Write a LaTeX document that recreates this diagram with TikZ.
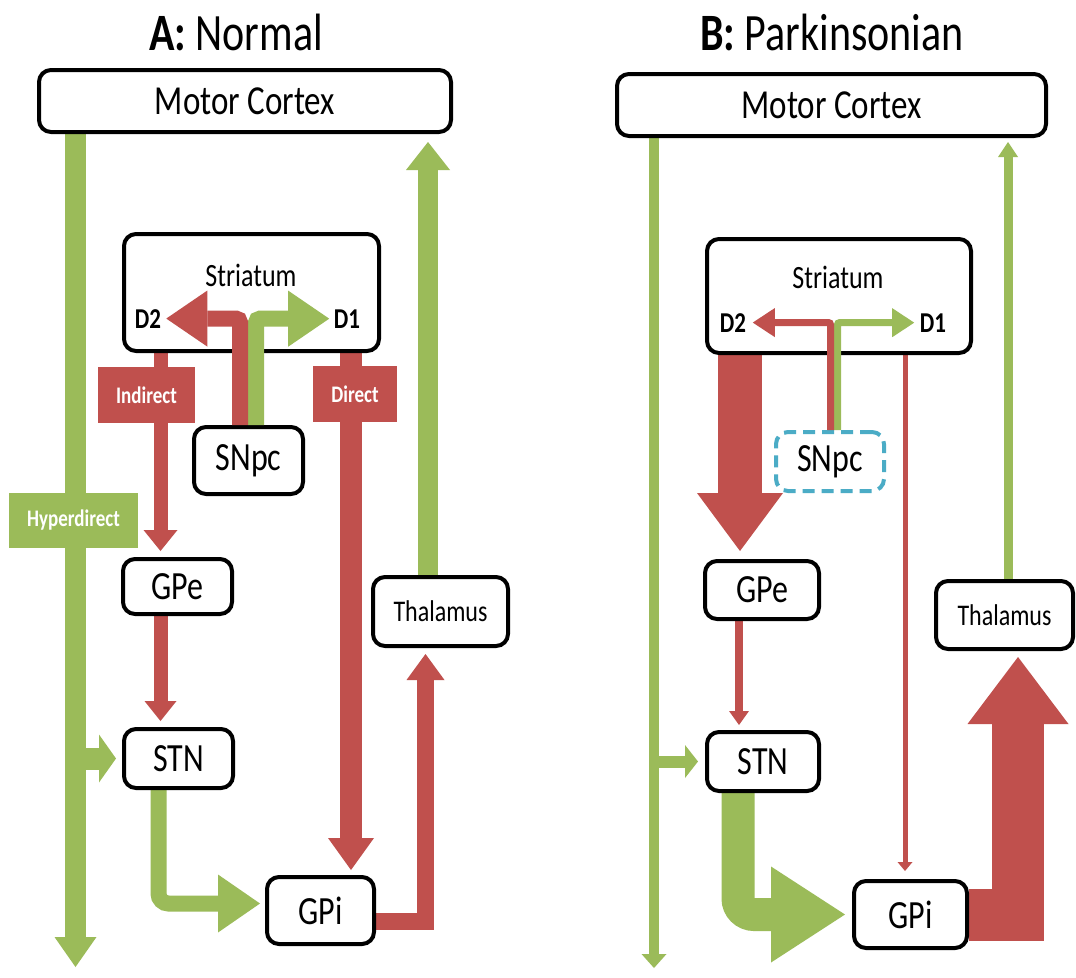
\documentclass[tikz,border=0pt]{standalone}
\usepackage{fontspec}
\setmainfont{Carlito}
\usepackage{graphicx}
\usetikzlibrary{arrows.meta,backgrounds,calc}
\definecolor{pred}{HTML}{C0504D}
\definecolor{pgreen}{HTML}{9BBB59}
\definecolor{pcyan}{HTML}{4BACC6}
\newcommand{\tall}[1]{\scalebox{1}[1.25]{#1}}
\newcommand{\fsz}[1]{\fontsize{#1}{#1}\selectfont}
\begin{document}
\begin{tikzpicture}[x=1pt,y=-1pt,
  brainbox/.style={draw=black,line width=4pt,rounded corners=12pt,fill=white,inner sep=0pt,font=\fsz{32}},
  pathtag/.style={inner sep=0pt,text=white,font=\bfseries\fsz{19}},
  lbl/.style={inner sep=0pt,anchor=base},
  rd/.style={draw=pred},
  gr/.style={draw=pgreen},
  hd/.style 2 args={-{Triangle[width=#1,length=#2,line width=0pt]}},
]
% ---------------- Panel A nodes
\node[lbl,font=\fsz{42}] (titleA) at (236,50) {\tall{\textbf{A:} Normal}};
\node[brainbox,minimum width=412pt,minimum height=62pt,font=\fsz{33}] (mcA) at (245,101) {\tall{Motor Cortex}};
\node[brainbox,minimum width=255pt,minimum height=117pt] (strA) at (251.5,292.5) {};
\node[lbl,font=\fsz{26}] (stA) at (251,286) {\tall{Striatum}};
\node[lbl,font=\bfseries\fsz{23}] (d2A) at (148,328) {\tall{D2}};
\node[lbl,font=\bfseries\fsz{23}] (d1A) at (347,328) {\tall{D1}};
\node[brainbox,minimum width=109pt,minimum height=67pt] (snA) at (248.5,460.5) {\tall{SNpc}};
\node[brainbox,minimum width=109pt,minimum height=55pt] (gpeA) at (177.5,586.5) {\tall{GPe}};
\node[brainbox,minimum width=109pt,minimum height=59pt] (stnA) at (178.5,758.5) {\tall{STN}};
\node[brainbox,minimum width=107pt,minimum height=67pt] (gpiA) at (320.5,910.5) {\tall{GPi}};
\node[brainbox,minimum width=135pt,minimum height=69pt,font=\fsz{24}] (thA) at (440.5,611.5) {\tall{Thalamus}};
\coordinate (xhA) at (75.5,967);
\coordinate (xindA) at (160.5,0);
\coordinate (xdirA) at (351,0);
\coordinate (xthA) at (425.5,0);
\coordinate (xupA) at (428,0);
\coordinate (xsgA) at (158.5,0);
% ---------------- Panel B nodes
\node[lbl,font=\fsz{42}] (titleB) at (832,50) {\tall{\textbf{B:} Parkinsonian}};
\node[brainbox,minimum width=429pt,minimum height=62pt,font=\fsz{33}] (mcB) at (831.5,105) {\tall{Motor Cortex}};
\node[brainbox,minimum width=264pt,minimum height=114pt] (strB) at (839,296) {};
\node[lbl,font=\fsz{26}] (stB) at (838,288) {\tall{Striatum}};
\node[lbl,font=\bfseries\fsz{23}] (d2B) at (733,332) {\tall{D2}};
\node[lbl,font=\bfseries\fsz{23}] (d1B) at (933,332) {\tall{D1}};
\node[brainbox,draw=pcyan,dash pattern=on 12pt off 7pt,minimum width=108pt,minimum height=59pt] (snB) at (830,461.5) {\tall{SNpc}};
\node[brainbox,minimum width=114pt,minimum height=58pt] (gpeB) at (762,590) {\tall{GPe}};
\node[brainbox,minimum width=112pt,minimum height=59pt] (stnB) at (763,761.5) {\tall{STN}};
\node[brainbox,minimum width=113pt,minimum height=67pt] (gpiB) at (910.5,914.5) {\tall{GPi}};
\node[brainbox,minimum width=137pt,minimum height=68pt,font=\fsz{24}] (thB) at (1004.5,615) {\tall{Thalamus}};
\coordinate (xhB) at (654,968);
\coordinate (xupB) at (1008,0);
\coordinate (xbigB) at (740,0);
\coordinate (xgsB) at (739,0);
\coordinate (xsgB) at (738,0);
\coordinate (xdirB) at (905,0);
\coordinate (xthB) at (1018,0);
% ---------------- connectors behind the boxes
\begin{scope}[on background layer]
\fill[white] (0,0) rectangle (1076,969);
% A
\draw[gr,line width=21pt,hd={42pt}{30pt}] (xhA |- mcA.south) -- (xhA);
\draw[gr,line width=22pt,hd={48pt}{17pt},shorten >=6pt] (xhA |- stnA.west) -- (stnA.west);
\draw[gr,line width=20pt,hd={44pt}{28pt},shorten >=8pt] (xupA |- thA.north) -- (xupA |- mcA.south);
\draw[rd,line width=14pt,hd={34pt}{21pt},shorten >=6pt] (xindA |- strA.south) -- (xindA |- gpeA.north);
\draw[rd,line width=14pt,hd={32pt}{20pt},shorten >=6pt] (xindA |- gpeA.south) -- (xindA |- stnA.north);
\draw[rd,line width=22pt,hd={46pt}{32pt},shorten >=5pt] (xdirA |- strA.south) -- (xdirA |- gpiA.north);
\draw[rd,line width=17pt,hd={38pt}{26pt},shorten >=6pt] ($(gpiA.east)+(0,11)$) -| (xthA |- thA.south);
\draw[gr,line width=16pt,hd={58pt}{42pt},shorten >=5pt,rounded corners=10pt] (xsgA |- stnA.south) |- ($(gpiA.west)+(0,-7)$);
% B
\draw[gr,line width=10pt,hd={25pt}{14pt}] (xhB |- mcB.south) -- (xhB);
\draw[gr,line width=12pt,hd={33pt}{13pt},shorten >=7pt] (xhB |- stnB.west) -- (stnB.west);
\draw[gr,line width=9pt,hd={20pt}{15pt},shorten >=4pt] (xupB |- thB.north) -- (xupB |- mcB.south);
\draw[rd,line width=44pt,hd={86pt}{58pt},shorten >=8pt] (xbigB |- strB.south) -- (xbigB |- gpeB.north);
\draw[rd,line width=8pt,hd={20pt}{14pt},shorten >=5pt] (xgsB |- gpeB.south) -- (xgsB |- stnB.north);
\draw[gr,line width=33pt,hd={96pt}{74pt},shorten >=7pt,rounded corners=16pt] (xsgB |- stnB.south) |- (gpiB.west);
\draw[rd,line width=5pt,hd={15pt}{9pt},shorten >=8pt] (xdirB |- strB.south) -- (xdirB |- gpiB.north);
\draw[rd,line width=52pt,hd={101pt}{67pt},shorten >=6pt] (gpiB.east) -| (xthB |- thB.south);
\end{scope}
% ---------------- pathway labels on top of the lines
\node[pathtag,fill=pred,minimum width=97pt,minimum height=56pt] (indA) at (146.5,395) {\tall{Indirect}};
\node[pathtag,fill=pred,minimum width=84pt,minimum height=56pt] (dirA) at (355,394) {\tall{Direct}};
\node[pathtag,fill=pgreen,minimum width=129pt,minimum height=55pt] (hypA) at (73.5,520.5) {\tall{Hyperdirect}};
% ---------------- SNpc dopamine arrows (over the striatum border)
\draw[gr,line width=16pt,hd={56pt}{41pt},rounded corners=4pt] ($(snA.north)+(7.5,0)$) |- ($(d1A.west)+(-4.5,0)$);
\draw[rd,line width=16pt,hd={56pt}{41pt},rounded corners=4pt] ($(snA.north)+(-8.5,0)$) |- ($(d2A.east)+(5,0)$);
\draw[gr,line width=7pt,hd={29pt}{22pt},rounded corners=2pt] ($(snB.north)+(7.5,0)$) |- ($(d1B.west)+(-5.5,0)$);
\draw[rd,line width=7pt,hd={29pt}{22pt},rounded corners=2pt] ($(snB.north)+(0.5,0)$) |- ($(d2B.east)+(6.5,0)$);
\end{tikzpicture}
\end{document}
